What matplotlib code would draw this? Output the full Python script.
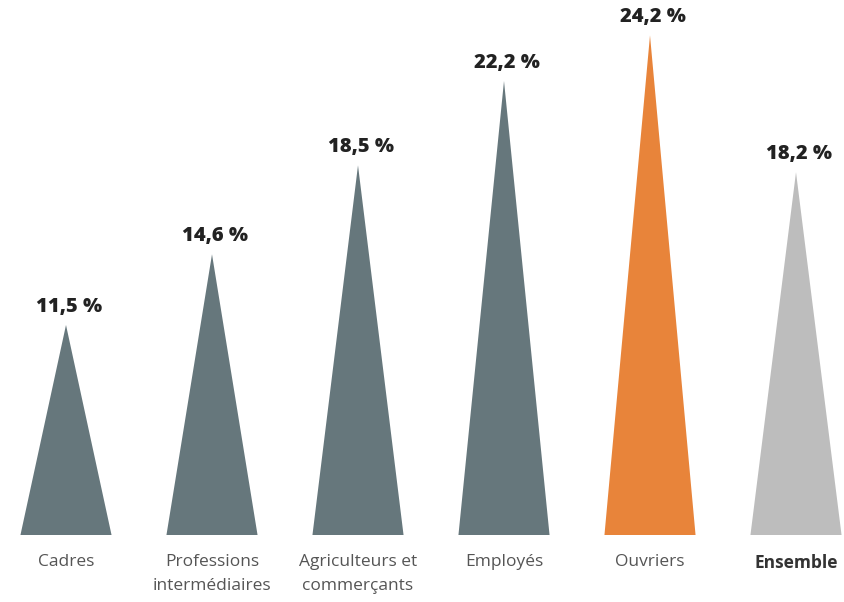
import matplotlib
matplotlib.use("Agg")
import matplotlib.pyplot as plt
from matplotlib.patches import Polygon

# Data
categories = ["Cadres", "Professions\nintermédiaires", "Agriculteurs et\ncommerçants",
              "Employés", "Ouvriers", "Ensemble"]
values = [11.5, 14.6, 18.5, 22.2, 24.2, 18.2]
labels = ["11,5 %", "14,6 %", "18,5 %", "22,2 %", "24,2 %", "18,2 %"]
colors = ["#66777c", "#66777c", "#66777c", "#66777c", "#e8843a", "#bdbdbd"]

plt.rcParams['font.family'] = ['Open Sans', 'DejaVu Sans']

fig = plt.figure(figsize=(8.45, 6.02), dpi=100)
ax = fig.add_axes([0, 67 / 602, 1, 535 / 602])

ymin, ymax = 2.29, 25.75
half = 0.312

for i, (v, c, lab) in enumerate(zip(values, colors, labels)):
    tri = Polygon([(i - half, ymin), (i + half, ymin), (i, v)], closed=True,
                  facecolor=c, edgecolor='none')
    ax.add_patch(tri)
    ax.annotate(lab, (i, v), xytext=(2, 6), textcoords='offset points',
                ha='center', va='bottom', fontsize=14.5, fontweight='heavy',
                color='#222222')

ax.set_xlim(-66 / 146, (845 - 66) / 146)
ax.set_ylim(ymin, ymax)
ax.set_xticks(range(len(categories)))
ax.set_xticklabels(categories, fontsize=12.5, color='#555555', linespacing=1.6)
ax.get_xticklabels()[-1].set_fontweight('bold')
ax.get_xticklabels()[-1].set_color('#333333')
ax.tick_params(axis='x', length=0, pad=14)
ax.set_yticks([])
for s in ax.spines.values():
    s.set_visible(False)

fig.savefig("out.png", dpi=100)
